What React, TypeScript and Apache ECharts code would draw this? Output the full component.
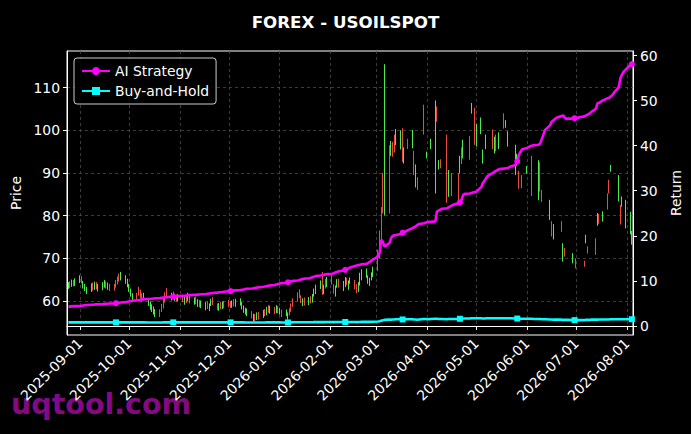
import React, { useEffect, useRef } from "react";
import * as echarts from "echarts";

// Trading days (Mon-Fri) starting Monday 2025-08-25; null = no candle that day
const opens = [
  63.2, 64.2, 63.6, 64.5, 63.9,
  64.6, 65.4, 63.4, 62.8, 62.0,
  62.5, 63.9, 63.0, 64.0, 62.6,
  62.9, 63.5, 64.2, 63.0, 63.6,
  63.6, 64.4, 65.3, 66.0, 65.2,
  64.5, 63.6, 62.6, 61.4, 60.4,
  61.4, 62.9, 62.2, 61.3, 60.6,
  59.2, 58.4, 57.9, 57.2, 56.6,
  57.6, 58.9, 60.2, 61.6, 62.6,
  60.5, 61.8, 60.4, 61.1, 60.3,
  61.0, 59.5, 60.8, 60.4, 60.9,
  59.5, 60.6, 59.0, 59.8, 58.7,
  58.2, 59.5, 58.0, 59.2, 60.5,
  59.0, 58.1, 59.3, 58.5, 59.6,
  59.8, 59.6, 58.8, 60.0, 59.0,
  59.3, 58.4, 57.6, 57.2, 56.8,
  57.2, 55.6, 56.5, 55.9, 57.0,
  56.4, 57.7, 57.0, 58.6, 57.4,
  58.2, 57.5, 58.4, 57.2, 57.5,
  56.8, 56.0, 57.9, 59.0, 60.2,
  61.6, 62.3, 60.9, 59.2, 60.4,
  59.4, 60.7, 60.0, 61.4, 62.0,
  63.2, 66.6, 62.0, 64.8, 63.6,
  65.6, 63.5, 61.8, 63.5, 64.8,
  62.8, 63.6, 65.0, 63.0, 64.4,
  64.5, 63.5, 62.5, 64.0, 65.2,
  65.8, 64.5, 63.9, 65.2, 66.0,
  71.5, 75.5, 81.0, 89.5, 80.2,
  95.9, 94.5, 96.8, 98.5, 97.0,
  96.0, 100.0, 92.6, null, 97.5,
  96.2, 94.7, 87.0, 88.5, null,
  105.5, null, 93.8, null, 96.0,
  85.6, 105.2, 91.2, 92.8, null,
  98.5, 84.8, null, 89.5, null,
  89.5, 90.3, 95.5, 93.8, null,
  98.2, 104.3, null, 104.8, 96.6,
  99.5, 92.6, null, 96.0, null,
  99.7, 95.0, 98.5, null, 96.0,
  103.6, 101.0, 96.6, null, null,
  89.9, 92.0, 90.0, null, 89.1,
  90.2, null, null, 93.5, null,
  84.0, 92.0, 85.5, null, null,
  79.4, 78.3, 74.8, null, null,
  78.3, 69.6, 72.0, null, null,
  69.2, null, 69.6, null, null,
  69.0, 73.9, 72.4, null, null,
  74.3, 78.0, 80.0, null, 79.0,
  84.8, 88.0, 90.7, null, null,
  83.7, 82.1, 82.5, null, 77.4,
  76.0, 73.6,
];

const closes = [
  64.0, 63.4, 64.6, 63.8, 64.9,
  65.6, 64.5, 64.2, 63.6, 62.9,
  63.7, 62.8, 64.1, 63.1, 63.6,
  64.0, 64.4, 63.3, 63.9, 62.7,
  62.9, 63.5, 64.2, 64.9, 66.3,
  65.6, 64.8, 63.5, 62.4, 61.3,
  60.6, 61.6, 61.0, 60.2, 61.5,
  60.1, 59.4, 58.8, 58.3, 57.6,
  56.6, 57.8, 58.7, 60.0, 61.3,
  61.5, 60.8, 61.3, 60.2, 61.2,
  60.1, 60.5, 59.9, 61.4, 59.8,
  60.4, 59.6, 60.0, 58.9, 59.7,
  59.3, 58.5, 59.0, 60.1, 59.4,
  58.2, 59.1, 58.4, 59.5, 58.7,
  59.0, 58.7, 59.7, 59.1, 60.1,
  60.2, 59.3, 58.5, 58.0, 57.8,
  56.3, 56.6, 55.5, 56.9, 56.0,
  57.5, 56.8, 58.2, 57.6, 58.5,
  57.3, 58.6, 57.5, 58.0, 56.6,
  57.6, 56.9, 57.0, 57.8, 59.0,
  60.3, 61.1, 59.9, 60.2, 59.3,
  60.5, 59.8, 61.2, 62.5, 63.4,
  64.4, 61.6, 63.4, 63.3, 65.2,
  64.2, 62.1, 63.2, 64.7, 63.5,
  64.3, 65.2, 64.1, 64.4, 65.1,
  63.1, 62.2, 64.0, 66.2, 67.0,
  67.2, 65.6, 65.0, 66.3, 67.6,
  67.5, 70.5, 74.0, 81.0, 115.3,
  81.0, 97.0, 94.2, 95.2, 99.8,
  99.5, 93.0, 95.5, null, 96.0,
  99.7, 90.0, 91.5, 86.5, null,
  100.5, null, 94.6, null, 97.5,
  106.7, 102.4, 92.6, 91.5, null,
  83.3, 90.3, null, 85.0, null,
  83.3, 93.5, 92.5, 97.3, null,
  93.5, 106.0, null, 97.0, 101.0,
  102.5, 95.0, null, 98.5, null,
  96.0, 98.0, 95.5, null, 99.0,
  100.8, 102.0, 99.4, null, null,
  96.2, 94.0, 86.7, null, 86.8,
  91.2, null, null, 85.0, null,
  92.5, 86.0, 83.6, null, null,
  83.3, 75.5, 77.5, null, null,
  76.6, 73.1, 70.8, null, null,
  70.8, null, 68.0, null, null,
  68.4, 75.1, 71.5, null, null,
  71.2, 80.2, 78.5, null, 80.5,
  81.8, 85.6, 91.5, null, null,
  89.1, 78.3, 84.1, null, 83.3,
  80.5, 76.0,
];

const lows = [
  62.8, 63.0, 63.3, 63.4, 63.5,
  64.2, 64.1, 62.9, 62.3, 61.6,
  62.1, 62.4, 62.6, 62.7, 62.2,
  62.5, 63.1, 62.9, 62.6, 62.3,
  62.4, 63.1, 63.8, 64.5, 64.8,
  64.0, 63.2, 62.1, 61.0, 60.0,
  60.2, 61.2, 60.6, 59.8, 60.1,
  58.8, 57.9, 57.4, 56.8, 56.2,
  56.2, 57.4, 58.2, 59.6, 60.9,
  60.1, 60.4, 60.0, 59.8, 59.9,
  59.7, 59.1, 59.5, 60.0, 59.4,
  59.1, 59.2, 58.6, 58.5, 58.3,
  57.8, 58.1, 57.6, 58.8, 59.0,
  57.8, 57.7, 58.0, 58.1, 58.3,
  58.6, 58.3, 58.4, 58.7, 58.6,
  58.9, 58.0, 57.2, 56.8, 56.4,
  55.9, 55.2, 55.1, 55.5, 55.6,
  56.0, 56.4, 56.6, 57.2, 57.0,
  56.9, 57.1, 57.1, 56.8, 56.2,
  56.4, 55.6, 56.6, 57.4, 58.6,
  59.9, 60.7, 59.5, 58.8, 58.9,
  59.0, 59.4, 59.6, 61.0, 61.6,
  62.8, 61.4, 61.6, 62.9, 63.2,
  63.8, 61.7, 61.0, 63.1, 63.1,
  62.3, 63.2, 63.7, 62.6, 64.0,
  62.7, 61.8, 62.1, 63.6, 64.8,
  65.4, 64.0, 63.5, 64.8, 65.6,
  67.0, 70.0, 73.5, 80.5, 80.0,
  80.5, 94.0, 93.8, 94.8, 96.5,
  95.5, 92.6, 92.2, null, 95.6,
  95.8, 89.5, 86.6, 86.0, null,
  99.0, null, 93.4, null, 95.6,
  85.2, 102.0, 90.8, 91.1, null,
  83.0, 84.4, null, 84.6, null,
  83.0, 89.9, 92.1, 93.4, null,
  93.1, 103.9, null, 96.6, 96.2,
  99.1, 92.2, null, 95.6, null,
  95.6, 94.6, 95.1, null, 95.6,
  100.4, 100.6, 96.2, null, null,
  89.5, 91.6, 86.3, null, 86.4,
  89.8, null, null, 84.6, null,
  83.6, 85.6, 83.2, null, null,
  79.0, 75.1, 74.4, null, null,
  76.2, 69.2, 70.4, null, null,
  68.8, null, 67.6, null, null,
  68.0, 73.5, 71.1, null, null,
  70.8, 77.6, 78.1, null, 78.6,
  81.4, 85.2, 90.3, null, null,
  83.3, 77.9, 82.1, null, 77.0,
  75.6, 73.2,
];

const highs = [
  64.4, 64.6, 65.0, 64.9, 65.3,
  66.0, 65.8, 64.7, 64.0, 63.3,
  64.1, 64.3, 64.5, 64.4, 64.0,
  64.4, 64.9, 64.6, 64.3, 64.0,
  64.0, 64.9, 65.7, 66.4, 66.8,
  66.0, 65.2, 64.0, 62.9, 61.8,
  61.9, 63.3, 62.6, 61.8, 61.9,
  60.6, 59.9, 59.2, 58.7, 58.1,
  58.0, 59.3, 60.7, 62.0, 63.0,
  61.9, 62.2, 61.7, 61.5, 61.6,
  61.4, 60.9, 61.2, 61.9, 61.3,
  60.8, 61.0, 60.4, 60.2, 60.1,
  59.7, 59.9, 59.4, 60.5, 60.9,
  59.4, 59.5, 59.7, 59.9, 60.0,
  60.2, 60.0, 60.1, 60.4, 60.5,
  60.6, 59.7, 58.9, 58.4, 58.2,
  57.6, 57.0, 56.9, 57.3, 57.4,
  57.9, 58.1, 58.6, 59.0, 58.9,
  58.6, 59.0, 58.8, 58.4, 57.9,
  58.0, 57.3, 58.3, 59.4, 60.6,
  62.0, 62.7, 61.3, 60.6, 60.8,
  60.9, 61.1, 61.6, 62.9, 63.8,
  64.8, 66.8, 63.8, 65.2, 65.6,
  66.0, 63.9, 63.6, 65.1, 65.2,
  64.7, 65.6, 65.4, 64.8, 65.5,
  64.9, 63.9, 64.4, 66.6, 67.4,
  67.6, 66.0, 65.4, 66.7, 68.0,
  72.0, 76.5, 82.0, 90.0, 115.5,
  96.5, 97.5, 97.3, 99.0, 100.3,
  100.0, 100.5, 96.0, null, 98.0,
  100.1, 95.2, 92.0, 89.0, null,
  106.0, null, 95.0, null, 98.0,
  107.0, 105.6, 93.0, 93.2, null,
  99.0, 90.7, null, 90.0, null,
  90.0, 94.0, 96.0, 97.8, null,
  98.7, 106.4, null, 105.3, 101.5,
  103.0, 95.5, null, 99.0, null,
  100.2, 98.5, 99.0, null, 99.5,
  104.0, 102.4, 99.8, null, null,
  96.6, 94.5, 90.5, null, 89.5,
  91.6, null, null, 94.0, null,
  93.0, 92.5, 86.0, null, null,
  83.7, 78.7, 78.0, null, null,
  78.7, 73.5, 72.4, null, null,
  71.2, null, 70.0, null, null,
  69.4, 75.5, 72.8, null, null,
  74.7, 80.6, 80.4, null, 81.0,
  85.2, 88.4, 91.9, null, null,
  89.5, 82.5, 84.5, null, 83.7,
  80.9, 76.4,
];

const aiReturn = [
  4.3, 4.3, 4.35, 4.4, 4.4,
  4.45, 4.5, 4.55, 4.6, 4.65,
  4.7, 4.7, 4.75, 4.8, 4.8,
  4.85, 4.9, 4.9, 4.95, 5.0,
  5.0, 5.05, 5.1, 5.15, 5.2,
  5.3, 5.35, 5.45, 5.55, 5.6,
  5.7, 5.75, 5.8, 5.9, 5.95,
  6.0, 6.0, 6.05, 6.1, 6.15,
  6.2, 6.25, 6.3, 6.35, 6.4,
  6.5, 6.5, 6.55, 6.6, 6.65,
  6.7, 6.7, 6.75, 6.8, 6.85,
  6.9, 6.9, 6.95, 7.0, 7.05,
  7.1, 7.15, 7.2, 7.25, 7.3,
  7.4, 7.45, 7.5, 7.55, 7.6,
  7.7, 7.75, 7.8, 7.85, 7.9,
  8.0, 8.05, 8.1, 8.2, 8.25,
  8.3, 8.35, 8.45, 8.5, 8.6,
  8.7, 8.75, 8.85, 8.9, 9.0,
  9.1, 9.2, 9.3, 9.4, 9.5,
  9.6, 9.7, 9.8, 9.9, 10.0,
  10.1, 10.2, 10.3, 10.4, 10.5,
  10.6, 10.7, 10.8, 10.95, 11.1,
  11.2, 11.3, 11.35, 11.45, 11.5,
  11.6, 11.7, 11.85, 12.0, 12.15,
  12.3, 12.45, 12.6, 12.8, 13.0,
  13.3, 13.4, 13.5, 13.6, 13.7,
  13.8, 14.0, 14.2, 14.5, 14.8,
  15.4, 16.2, 19.1, 18.6, 17.6,
  18.4, 19.5, 20.0, 20.1, 20.2,
  20.4, 20.7, 20.8, 21.0, 21.2,
  21.7, 21.9, 22.1, 22.4, 22.6,
  22.8, 22.9, 23.0, 23.1, 23.1,
  23.2, 25.4, 25.6, 25.8, 26.0,
  26.1, 26.3, 26.5, 26.7, 26.9,
  27.2, 27.4, 28.0, 29.1, 29.3,
  29.4, 29.5, 29.6, 29.7, 29.8,
  30.8, 31.7, 32.2, 32.8, 33.3,
  33.9, 34.2, 34.4, 34.6, 34.8,
  34.9, 35.0, 35.0, 35.2, 35.4,
  35.7, 36.5, 38.0, 38.6, 39.2,
  39.5, 39.7, 39.9, 40.0, 40.1,
  40.2, 40.5, 41.5, 42.5, 43.5,
  44.5, 45.3, 45.6, 45.9, 46.2,
  46.6, 46.7, 46.3, 45.9, 46.0,
  46.0, 46.1, 46.2, 46.2, 46.3,
  46.5, 46.7, 46.9, 47.1, 47.4,
  48.2, 49.4, 49.5, 49.7, 50.0,
  50.5, 50.6, 50.9, 51.2, 51.7,
  53.0, 55.0, 55.8, 56.4, 56.8,
  57.9, 58.1,
];

const bhReturn = [
  0.8, 0.8, 0.8, 0.8, 0.8,
  0.8, 0.8, 0.8, 0.8, 0.8,
  0.8, 0.8, 0.8, 0.8, 0.8,
  0.8, 0.8, 0.8, 0.8, 0.8,
  0.8, 0.8, 0.8, 0.8, 0.8,
  0.8, 0.8, 0.8, 0.8, 0.8,
  0.8, 0.8, 0.8, 0.8, 0.8,
  0.78, 0.78, 0.78, 0.78, 0.78,
  0.78, 0.78, 0.8, 0.8, 0.8,
  0.8, 0.8, 0.8, 0.8, 0.8,
  0.8, 0.8, 0.8, 0.8, 0.8,
  0.8, 0.8, 0.8, 0.8, 0.8,
  0.8, 0.8, 0.8, 0.8, 0.8,
  0.8, 0.8, 0.8, 0.8, 0.8,
  0.8, 0.8, 0.8, 0.8, 0.8,
  0.8, 0.8, 0.8, 0.78, 0.78,
  0.78, 0.76, 0.76, 0.78, 0.78,
  0.78, 0.78, 0.8, 0.8, 0.8,
  0.8, 0.8, 0.8, 0.8, 0.78,
  0.78, 0.78, 0.8, 0.8, 0.82,
  0.84, 0.84, 0.82, 0.82, 0.82,
  0.82, 0.82, 0.84, 0.85, 0.86,
  0.87, 0.85, 0.86, 0.86, 0.88,
  0.87, 0.86, 0.87, 0.88, 0.87,
  0.87, 0.88, 0.88, 0.88, 0.88,
  0.87, 0.86, 0.88, 0.9, 0.92,
  0.93, 0.92, 0.92, 0.93, 0.95,
  1.0, 1.05, 1.15, 1.25, 1.35,
  1.4, 1.4, 1.45, 1.45, 1.5,
  1.5, 1.45, 1.5, 1.5, 1.5,
  1.5, 1.45, 1.45, 1.4, 1.45,
  1.55, 1.55, 1.5, 1.5, 1.55,
  1.6, 1.6, 1.55, 1.55, 1.55,
  1.5, 1.55, 1.55, 1.55, 1.55,
  1.55, 1.6, 1.6, 1.65, 1.65,
  1.65, 1.7, 1.7, 1.7, 1.7,
  1.7, 1.65, 1.65, 1.7, 1.7,
  1.7, 1.7, 1.7, 1.7, 1.7,
  1.7, 1.7, 1.7, 1.7, 1.7,
  1.65, 1.65, 1.6, 1.6, 1.6,
  1.6, 1.6, 1.6, 1.6, 1.55,
  1.55, 1.55, 1.5, 1.5, 1.5,
  1.45, 1.45, 1.4, 1.4, 1.4,
  1.4, 1.35, 1.35, 1.35, 1.35,
  1.3, 1.3, 1.3, 1.3, 1.3,
  1.3, 1.35, 1.35, 1.35, 1.4,
  1.4, 1.4, 1.45, 1.45, 1.45,
  1.45, 1.45, 1.5, 1.5, 1.5,
  1.5, 1.5, 1.5, 1.5, 1.5,
  1.5, 1.5,
];

const monthTicks = [
  "2025-09-01", "2025-10-01", "2025-11-01", "2025-12-01",
  "2026-01-01", "2026-02-01", "2026-03-01", "2026-04-01",
  "2026-05-01", "2026-06-01", "2026-07-01", "2026-08-01",
];
const priceTicks = [60, 70, 80, 90, 100, 110];
const returnTicks = [0, 10, 20, 30, 40, 50, 60];

const FONT = "DejaVu Sans";
const UP = "#4cec4c";
const DOWN = "#ec4c3e";

function parseDay(s: string): number {
  const [y, m, d] = s.split("-").map(Number);
  return new Date(y, m - 1, d).getTime();
}

function pad(n: number) {
  return n < 10 ? "0" + n : "" + n;
}

function tradingDays(n: number): number[] {
  const out: number[] = [];
  let d = new Date(2025, 7, 25);
  while (out.length < n) {
    const wd = d.getDay();
    if (wd !== 0 && wd !== 6) out.push(d.getTime());
    d = new Date(d.getFullYear(), d.getMonth(), d.getDate() + 1);
  }
  return out;
}

export default function App() {
  const ref = useRef<HTMLDivElement>(null);
  useEffect(() => {
    if (!ref.current) return;
    const chart = echarts.init(ref.current, null, { renderer: "svg" });
    const days = tradingDays(closes.length);
    const candleData: any[] = [];
    days.forEach((t, i) => {
      const o = opens[i];
      const c = closes[i];
      if (o == null || c == null) return;
      candleData.push([t, o, c, lows[i], highs[i]]);
    });
    const aiData = days.map((t, i) => [t, aiReturn[i]]);
    const bhData = days.map((t, i) => [t, bhReturn[i]]);
    const monthTimes = monthTicks.map(parseDay);
    const markerSize = (size: number) => (_v: any, p: any) =>
      p && typeof p.dataIndex === "number" && (p.dataIndex + 4) % 25 === 0 ? size : 0;

    const gridLine = { color: "#4a4a4a", type: [3, 3] as any, width: 0.8 };

    chart.setOption({
      animation: false,
      backgroundColor: "#000",
      textStyle: { fontFamily: FONT },
      title: {
        text: "FOREX - USOILSPOT",
        left: "center",
        top: 8,
        textStyle: { color: "#fff", fontSize: 16.7, fontWeight: "bold", fontFamily: FONT },
      },
      legend: {
        left: 74,
        top: 58,
        orient: "vertical",
        itemWidth: 28,
        itemHeight: 10,
        itemGap: 6,
        padding: [6, 7, 6, 7],
        borderColor: "#cccccc",
        borderWidth: 1,
        borderRadius: 3,
        backgroundColor: "rgba(0,0,0,0.85)",
        textStyle: { color: "#fff", fontSize: 13.9, fontFamily: FONT },
        data: ["AI Strategy", "Buy-and-Hold"],
      },
      grid: {
        left: 67,
        right: 57,
        top: 51,
        bottom: 99,
        show: true,
        borderColor: "#fff",
        borderWidth: 1,
        backgroundColor: "#000",
      },
      xAxis: {
        type: "value",
        min: new Date(2025, 7, 24, 3).getTime(),
        max: new Date(2026, 7, 4, 16).getTime(),
        axisLine: { show: true, lineStyle: { color: "#fff" } },
        axisTick: { show: true, length: 4, customValues: monthTimes, lineStyle: { color: "#fff" } },
        axisLabel: {
          customValues: monthTimes,
          rotate: 45,
          color: "#fff",
          fontSize: 13.9,
          fontFamily: FONT,
          margin: 6,
          hideOverlap: false,
          formatter: (v: number) => {
            const d = new Date(v);
            return d.getFullYear() + "-" + pad(d.getMonth() + 1) + "-" + pad(d.getDate());
          },
        },
        splitLine: { show: true, lineStyle: gridLine },
      },
      yAxis: [
        {
          type: "value",
          min: 52,
          max: 118.6,
          position: "left",
          name: "Price",
          nameLocation: "middle",
          nameGap: 44,
          nameRotate: 90,
          nameTextStyle: { color: "#fff", fontSize: 13.9, fontFamily: FONT },
          axisLine: { show: true, lineStyle: { color: "#fff" } },
          axisTick: { show: true, length: 4, customValues: priceTicks, lineStyle: { color: "#fff" } },
          axisLabel: { customValues: priceTicks, color: "#fff", fontSize: 13.9, fontFamily: FONT, margin: 7 },
          splitLine: { show: true, lineStyle: gridLine },
        },
        {
          type: "value",
          min: -2,
          max: 61,
          position: "right",
          name: "Return",
          nameLocation: "middle",
          nameGap: 36,
          nameRotate: 90,
          nameTextStyle: { color: "#fff", fontSize: 13.9, fontFamily: FONT },
          axisLine: { show: true, lineStyle: { color: "#fff" } },
          axisTick: { show: true, length: 4, customValues: returnTicks, lineStyle: { color: "#fff" } },
          axisLabel: { customValues: returnTicks, color: "#fff", fontSize: 13.9, fontFamily: FONT, margin: 7 },
          splitLine: { show: false },
        },
      ],
      series: [
        {
          name: "Price",
          type: "candlestick",
          xAxisIndex: 0,
          yAxisIndex: 0,
          barWidth: 0.6,
          data: candleData,
          itemStyle: {
            color: UP,
            color0: DOWN,
            borderColor: UP,
            borderColor0: DOWN,
            borderWidth: 1,
          },
          z: 2,
        },
        {
          name: "AI Strategy",
          type: "line",
          yAxisIndex: 1,
          data: aiData,
          symbol: "circle",
          showSymbol: true,
          showAllSymbol: true,
          symbolSize: markerSize(6),
          lineStyle: { color: "#ff00ff", width: 2.6 },
          itemStyle: { color: "#ff00ff" },
          z: 4,
        },
        {
          name: "Buy-and-Hold",
          type: "line",
          yAxisIndex: 1,
          data: bhData,
          symbol: "rect",
          showSymbol: true,
          showAllSymbol: true,
          symbolSize: markerSize(6),
          lineStyle: { color: "#00ffff", width: 2.6 },
          itemStyle: { color: "#00ffff" },
          z: 4,
        },
      ],
      graphic: [
        {
          type: "text",
          left: 11,
          top: 390,
          z: -10,
          style: {
            text: "uqtool.com",
            fill: "#840a84",
            fontSize: 28.5,
            fontWeight: "bold",
            fontFamily: FONT,
          },
        },
      ],
    });
    return () => chart.dispose();
  }, []);
  return (
    <div
      ref={ref}
      style={{ position: "fixed", left: 0, top: 0, width: 691, height: 434, background: "#000" }}
    />
  );
}
